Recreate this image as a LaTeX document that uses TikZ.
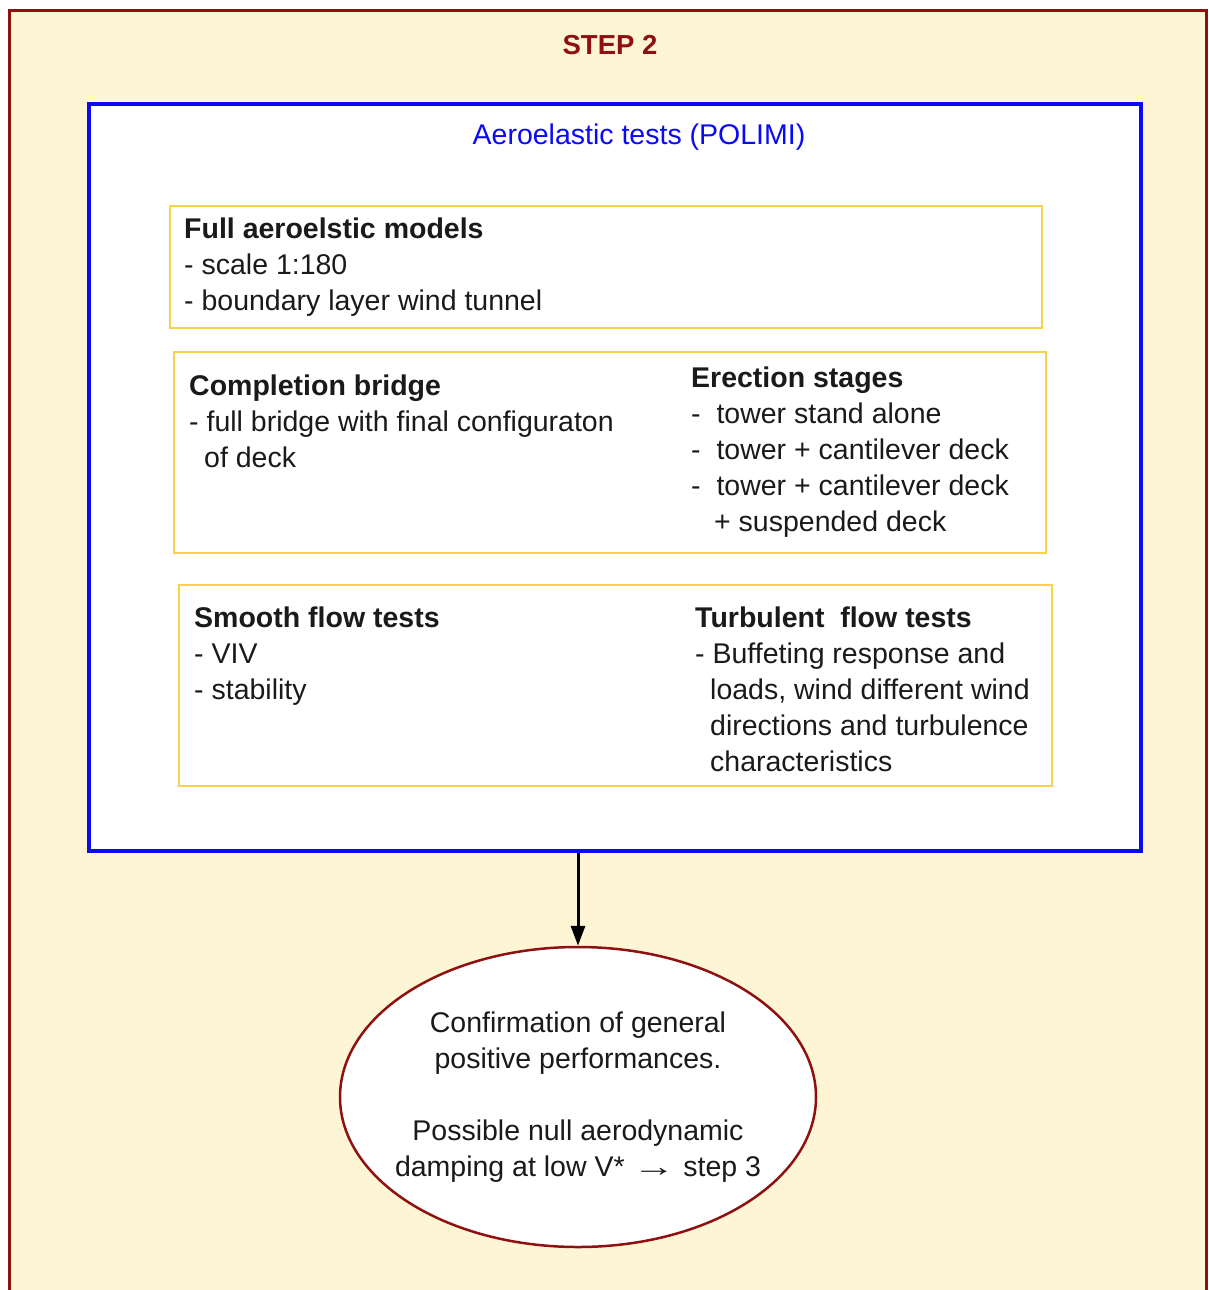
\documentclass[tikz,border=0pt]{standalone}
\usepackage{fontspec}
\setmainfont{Liberation Sans}
\usetikzlibrary{arrows.meta,shapes.geometric}
\definecolor{cream}{HTML}{FEF5D5}
\definecolor{framered}{HTML}{8E1010}
\definecolor{boxblue}{HTML}{0A0AF5}
\definecolor{gold}{HTML}{FAD24A}
\definecolor{ink}{HTML}{1A1A1A}
\newcommand{\txtfont}{\fontsize{28.5}{36}\selectfont}
\newcommand{\blockl}[1]{\begin{tabular}[t]{@{}l@{}}#1\end{tabular}}
\newcommand{\blockc}[1]{\begin{tabular}[t]{@{}c@{}}#1\end{tabular}}
\begin{document}
\begin{tikzpicture}[x=1pt,y=-1pt,
  yellowbox/.style={draw=gold, line width=2pt, fill=white, inner sep=0pt},
  txt/.style={anchor=base west, inner sep=0pt, font=\txtfont, text=ink}]
\useasboundingbox (0,0) rectangle (1208,1290);
\clip (0,0) rectangle (1208,1290);
\fill[white] (0,0) rectangle (1208,1290);
\draw[framered, line width=3pt, fill=cream] (9.5,10.5) rectangle (1206.5,1320);

\node[anchor=base, inner sep=0pt, font=\fontsize{27.5}{32}\selectfont\bfseries, text=framered] (title) at (610,55) {STEP 2};

\node[draw=boxblue, line width=3.5pt, fill=white, minimum width=1052pt, minimum height=747pt, inner sep=0pt] (aero) at (615,477.5) {};
\node[txt, anchor=base, text=boxblue] (aerot) at (639,144) {Aeroelastic tests (POLIMI)};

\node[yellowbox, minimum width=872pt, minimum height=122pt] (b1) at (606,267) {};
\node[yellowbox, minimum width=872pt, minimum height=201pt] (b2) at (610,452.5) {};
\node[yellowbox, minimum width=873pt, minimum height=201pt] (b3) at (615.5,685.5) {};

\node[txt] (t1) at (184,238) {\blockl{\textbf{Full aeroelstic models}\\- scale 1:180\\- boundary layer wind tunnel}};
\node[txt] (t2l) at (189,395) {\blockl{\textbf{Completion bridge}\\- full bridge with final configuraton\\\hspace*{15pt}of deck}};
\node[txt] (t2r) at (691,387) {\blockl{\textbf{Erection stages}\\-\ \ tower stand alone\\-\ \ tower + cantilever deck\\-\ \ tower + cantilever deck\\\hspace*{23pt}+ suspended deck}};
\node[txt] (t3l) at (194,627) {\blockl{\textbf{Smooth flow tests}\\- VIV\\- stability}};
\node[txt] (t3r) at (695,627) {\blockl{\textbf{Turbulent\ \ flow tests}\\- Buffeting response and\\\hspace*{15pt}loads, wind different wind\\\hspace*{15pt}directions and turbulence\\\hspace*{15pt}characteristics}};

\node[ellipse, draw=framered, line width=2.5pt, fill=white, minimum width=476pt, minimum height=300pt, inner sep=0pt] (ell) at (578,1097) {};
\node[txt, anchor=base] (ellt) at (578,1032) {\blockc{Confirmation of general\\positive performances.\\ \\Possible null aerodynamic\\damping at low V* \scalebox{1.5}[1]{→} step 3}};

\draw[line width=3pt, -{Triangle[width=14pt,length=20pt]}] (ell.north |- aero.south) -- (ell.north);
\end{tikzpicture}
\end{document}
